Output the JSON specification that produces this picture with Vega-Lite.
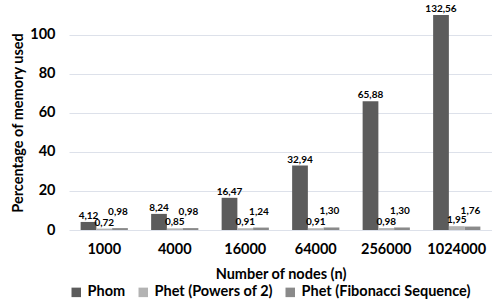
{
  "$schema": "https://vega.github.io/schema/vega-lite/v6.json",
  "width": 492,
  "height": 303,
  "autosize": {"type": "fit", "contains": "padding"},
  "padding": {"left": 10, "top": 4, "right": 0, "bottom": 4},
  "background": "white",
  "config": {
    "font": "Lato",
    "view": {"stroke": null},
    "locale": {"number": {"decimal": ",", "thousands": ".", "grouping": [3], "currency": ["", ""]}}
  },
  "data": {
    "values": [
      {"n": "1000", "series": "Phom", "value": 4.12},
      {"n": "1000", "series": "Phet (Powers of 2)", "value": 0.72},
      {"n": "1000", "series": "Phet (Fibonacci Sequence)", "value": 0.98},
      {"n": "4000", "series": "Phom", "value": 8.24},
      {"n": "4000", "series": "Phet (Powers of 2)", "value": 0.85},
      {"n": "4000", "series": "Phet (Fibonacci Sequence)", "value": 0.98},
      {"n": "16000", "series": "Phom", "value": 16.47},
      {"n": "16000", "series": "Phet (Powers of 2)", "value": 0.91},
      {"n": "16000", "series": "Phet (Fibonacci Sequence)", "value": 1.24},
      {"n": "64000", "series": "Phom", "value": 32.94},
      {"n": "64000", "series": "Phet (Powers of 2)", "value": 0.91},
      {"n": "64000", "series": "Phet (Fibonacci Sequence)", "value": 1.30},
      {"n": "256000", "series": "Phom", "value": 65.88},
      {"n": "256000", "series": "Phet (Powers of 2)", "value": 0.98},
      {"n": "256000", "series": "Phet (Fibonacci Sequence)", "value": 1.30},
      {"n": "1024000", "series": "Phom", "value": 132.56},
      {"n": "1024000", "series": "Phet (Powers of 2)", "value": 1.95},
      {"n": "1024000", "series": "Phet (Fibonacci Sequence)", "value": 1.76}
    ]
  },
  "encoding": {
    "x": {
      "field": "n", "type": "nominal",
      "sort": ["1000", "4000", "16000", "64000", "256000", "1024000"],
      "scale": {"paddingInner": 0.33, "paddingOuter": 0.165},
      "axis": {
        "title": "Number of nodes (n)", "labelAngle": 0, "domain": false, "ticks": false,
        "labelFontSize": 14.5, "labelFontWeight": "bold", "labelColor": "#000", "labelPadding": 12,
        "titleFontSize": 14.5, "titleFontWeight": "bold", "titleColor": "#000", "titlePadding": 12
      }
    },
    "xOffset": {"field": "series", "type": "nominal", "sort": ["Phom", "Phet (Powers of 2)", "Phet (Fibonacci Sequence)"]},
    "y": {
      "field": "value", "type": "quantitative",
      "scale": {"domain": [0, 110], "nice": false, "clamp": true},
      "axis": {
        "title": "Percentage of memory used", "values": [0, 20, 40, 60, 80, 100],
        "domain": false, "ticks": false, "gridColor": "#dde1ea", "gridWidth": 1,
        "labelFontSize": 14.5, "labelFontWeight": "bold", "labelColor": "#000", "labelPadding": 14,
        "titleFontSize": 14.5, "titleFontWeight": "bold", "titleColor": "#000", "titlePadding": 4
      }
    }
  },
  "layer": [
    {
      "mark": {"type": "bar"},
      "encoding": {
        "color": {
          "field": "series", "type": "nominal",
          "sort": ["Phom", "Phet (Powers of 2)", "Phet (Fibonacci Sequence)"],
          "scale": {"domain": ["Phom", "Phet (Powers of 2)", "Phet (Fibonacci Sequence)"], "range": ["#5c5c5c", "#b3b3b3", "#8a8a8a"]},
          "legend": {
            "title": null, "orient": "bottom", "direction": "horizontal", "symbolType": "square",
            "symbolSize": 90, "symbolStrokeWidth": 0, "labelFontSize": 14.5, "labelFontWeight": "bold", "labelColor": "#000",
            "labelLimit": 0, "columnPadding": 10, "offset": 4, "padding": 0
          }
        }
      }
    },
    {
      "transform": [{"filter": "datum.series != 'Phet (Fibonacci Sequence)'"}],
      "mark": {"type": "text", "baseline": "alphabetic", "dy": -3, "fontSize": 10, "fontWeight": "bold", "color": "#000"},
      "encoding": {"text": {"field": "value", "type": "quantitative", "format": ".2f"}}
    },
    {
      "transform": [{"filter": "datum.series == 'Phet (Fibonacci Sequence)'"}],
      "mark": {"type": "text", "baseline": "alphabetic", "dy": -13, "dx": -2, "fontSize": 10, "fontWeight": "bold", "color": "#000"},
      "encoding": {"text": {"field": "value", "type": "quantitative", "format": ".2f"}}
    }
  ]
}
